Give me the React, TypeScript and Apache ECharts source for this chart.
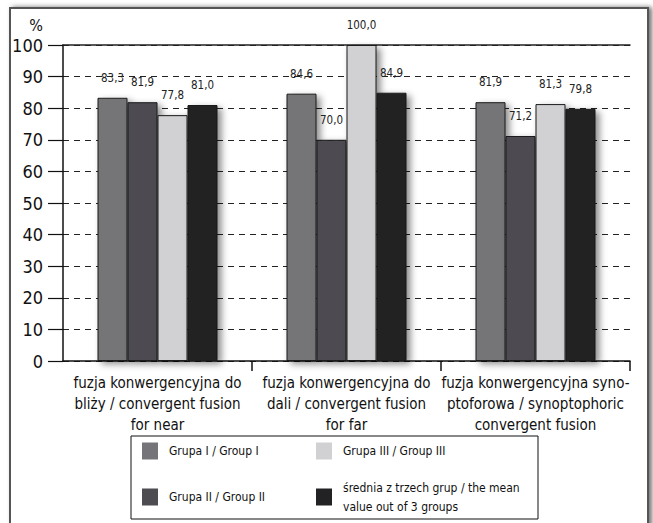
import React, { useEffect, useRef } from "react";
import * as echarts from "echarts";

const categories = [
  "fuzja konwergencyjna do\nbliży / convergent fusion\nfor near",
  "fuzja konwergencyjna do\ndali / convergent fusion\nfor far",
  "fuzja konwergencyjna syno-\nptoforowa / synoptophoric\nconvergent fusion",
];
const seriesNames = [
  "Grupa I / Group I",
  "Grupa II / Group II",
  "Grupa III / Group III",
  "średnia z trzech grup / the mean\nvalue out of 3 groups",
];
const group1 = [83.3, 84.6, 81.9];
const group2 = [81.9, 70.0, 71.2];
const group3 = [77.8, 100.0, 81.3];
const meanValues = [81.0, 84.9, 79.8];
const seriesColors = ["#757478", "#4d4c51", "#d1d1d3", "#222224"];
const yTicks = { min: 0, max: 100, interval: 10 };

const FONT = "'Liberation Sans Narrow', 'DejaVu Sans Condensed', 'Roboto Condensed', sans-serif";

export default function App() {
  const ref = useRef<HTMLDivElement>(null);
  useEffect(() => {
    if (!ref.current) return;
    const chart = echarts.init(ref.current, null, { renderer: "svg" });
    const dataSets = [group1, group2, group3, meanValues];
    const series = dataSets.map((d, i) => ({
      name: seriesNames[i],
      type: "bar",
      data: d,
      barWidth: 30,
      barGap: "0%",
      itemStyle: {
        color: seriesColors[i],
        borderColor: "#1a1a1a",
        borderWidth: 1,
        shadowBlur: 7,
        shadowOffsetX: 4,
        shadowOffsetY: 3,
        shadowColor: "rgba(0,0,0,0.45)",
      },
      label: {
        show: true,
        position: "top",
        distance: 14,
        fontFamily: FONT,
        fontSize: 11.5,
        color: "#222",
        formatter: (p: any) => Number(p.value).toFixed(1).replace(".", ","),
      },
    }));
    const legendCommon = {
      orient: "vertical",
      top: 441.5,
      padding: 0,
      height: 120,
      itemWidth: 16,
      itemHeight: 17,
      icon: "rect",
      selectedMode: false,
      itemStyle: { borderWidth: 0 },
      textStyle: { fontFamily: FONT, fontSize: 12, lineHeight: 19, color: "#111", padding: [0, 0, 0, 6] },
    };
    chart.setOption({
      animation: false,
      backgroundColor: "#fff",
      textStyle: { fontFamily: FONT },
      grid: { left: 63, right: 23, top: 45, bottom: 162, containLabel: false },
      xAxis: [
        {
          type: "category",
          data: categories,
          axisLine: { show: true, lineStyle: { color: "#111", width: 1.5 } },
          axisTick: {
            show: true,
            length: 10,
            interval: (index: number) => index > 0,
            lineStyle: { color: "#111", width: 1.5 },
          },
          axisLabel: {
            fontFamily: FONT,
            fontSize: 15,
            lineHeight: 21,
            color: "#111",
            margin: 11,
            interval: 0,
          },
        },
        {
          type: "category",
          position: "top",
          data: categories,
          axisLine: { show: true, lineStyle: { color: "#222", width: 1.5 } },
          axisTick: { show: false },
          axisLabel: { show: false },
        },
      ],
      yAxis: {
        type: "value",
        min: yTicks.min,
        max: yTicks.max,
        interval: yTicks.interval,
        name: "%",
        nameLocation: "end",
        nameGap: 12,
        nameTextStyle: { fontFamily: FONT, fontSize: 16, color: "#111", align: "right", padding: [0, 20, 0, 0] },
        axisLine: { show: true, lineStyle: { color: "#111", width: 1.5 } },
        axisTick: { show: true, length: 15, lineStyle: { color: "#111", width: 1.2 } },
        axisLabel: { fontFamily: FONT, fontSize: 18, color: "#111", margin: 20 },
        splitLine: { show: true, lineStyle: { color: "#222", width: 1.2, type: [6, 5] } },
      },
      legend: [
        {
          ...legendCommon,
          left: 142,
          itemGap: 27,
          data: [seriesNames[0], seriesNames[1]],
        },
        {
          ...legendCommon,
          left: 316,
          itemGap: 17.5,
          data: [seriesNames[2], seriesNames[3]],
        },
      ],
      graphic: [
        {
          type: "rect",
          z: -10,
          shape: { x: 10, y: 8, width: 638, height: 540 },
          style: {
            fill: "#fff",
            stroke: "#555",
            lineWidth: 2,
            shadowBlur: 5,
            shadowOffsetX: 3,
            shadowOffsetY: 0,
            shadowColor: "rgba(0,0,0,0.55)",
          },
        },
        {
          type: "rect",
          z: 1,
          shape: { x: 131, y: 436, width: 407, height: 83 },
          style: { fill: "#fff", stroke: "#111", lineWidth: 1 },
        },
      ],
      series,
    });
    return () => chart.dispose();
  }, []);
  return (
    <div
      ref={ref}
      style={{ position: "absolute", left: 0, top: 0, width: 653, height: 523 }}
    />
  );
}
